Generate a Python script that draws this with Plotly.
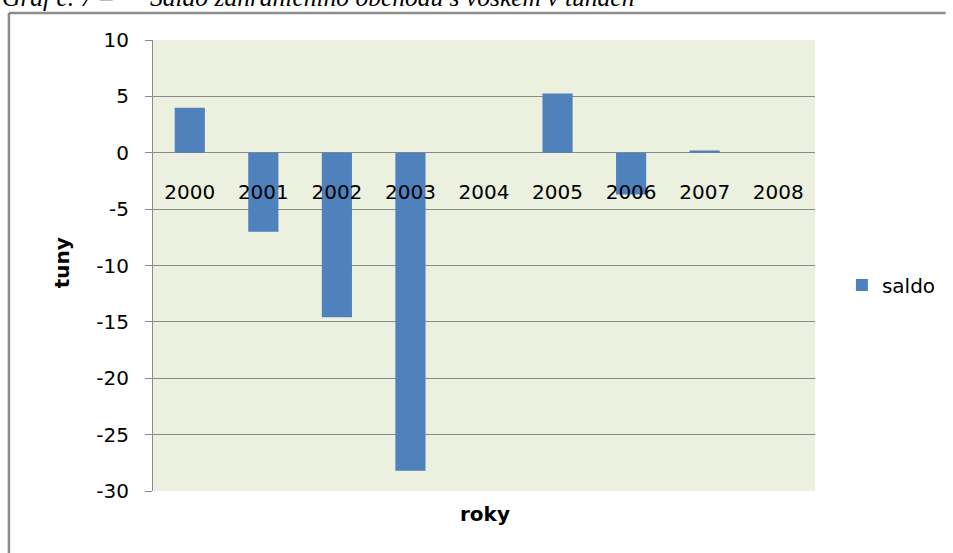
import plotly.graph_objects as go

# Foreign-trade balance of wax, in tonnes
years = ["2000", "2001", "2002", "2003", "2004", "2005", "2006", "2007", "2008"]
saldo = [4.0, -7.0, -14.6, -28.2, 0.0, 5.25, -3.7, 0.2, 0.0]
y_ticks = [10, 5, 0, -5, -10, -15, -20, -25, -30]

font_main = "DejaVu Sans"
grid_col = "#8a8a8a"

# plot-area geometry in pixels (used to place decorations in paper units)
W, H = 953, 553
L, R, T, B = 153, 817, 39.5, 491.5
pw, ph = R - L, B - T


def px_x(p):
    return (p - L) / pw


def px_y(p):
    return (B - p) / ph


fig = go.Figure()
fig.add_trace(go.Bar(
    x=years, y=saldo, name="saldo",
    marker=dict(color="#4F81BD", line=dict(width=0)),
))

fig.update_layout(
    width=W, height=H,
    margin=dict(l=L, r=W - R, t=T, b=H - B, pad=0),
    paper_bgcolor="white",
    plot_bgcolor="#EBF0DF",
    bargap=0.59,
    font=dict(family=font_main, color="#000000", size=20),
    showlegend=True,
    legend=dict(
        x=px_x(844), y=px_y(285), xanchor="left", yanchor="middle",
        font=dict(family=font_main, size=20),
        bgcolor="rgba(0,0,0,0)", borderwidth=0,
    ),
    xaxis=dict(
        type="category",
        anchor="free", position=px_y(152.3),
        showline=False, showgrid=False, zeroline=False, ticks="",
        ticklabelstandoff=25,
        tickfont=dict(family=font_main, size=20, color="#000000"),
        title=None,
    ),
    yaxis=dict(
        range=[-30, 10], tickmode="array", tickvals=y_ticks,
        ticktext=[str(v) for v in y_ticks],
        showgrid=True, gridcolor=grid_col, gridwidth=1.4,
        zeroline=False,
        showline=True, linecolor=grid_col, linewidth=1.2,
        ticks="outside", ticklen=7, tickcolor=grid_col, tickwidth=1.4,
        ticklabelstandoff=12,
        tickfont=dict(family=font_main, size=20, color="#000000"),
        title=None,
    ),
)

# axis titles
fig.add_annotation(
    text="<b>tuny</b>", textangle=-90, showarrow=False,
    xref="paper", yref="paper", x=px_x(62), y=px_y(263),
    xanchor="center", yanchor="middle",
    font=dict(family=font_main, size=20, color="#000000"),
)
fig.add_annotation(
    text="<b>roky</b>", showarrow=False,
    xref="paper", yref="paper", x=px_x(486), y=px_y(515),
    xanchor="center", yanchor="middle",
    font=dict(family=font_main, size=20, color="#000000"),
)

# caption above the chart frame
cap_font = dict(family="Liberation Serif", size=25.5, color="#000000")
fig.add_annotation(
    text="<i>Graf č. 7 –</i>", showarrow=False,
    xref="paper", yref="paper", x=px_x(0), y=px_y(13),
    xanchor="left", yanchor="bottom", font=cap_font,
)
fig.add_annotation(
    text="<i>Saldo zahraničního obchodu s voskem v tunách</i>", showarrow=False,
    xref="paper", yref="paper", x=px_x(148), y=px_y(13),
    xanchor="left", yanchor="bottom", font=cap_font,
)

# chart frame (top and left edges)
frame = dict(color="#8c8c8c", width=2.5)
fig.add_shape(type="line", xref="paper", yref="paper",
              x0=px_x(8.5), x1=px_x(948), y0=px_y(12.5), y1=px_y(12.5), line=frame)
fig.add_shape(type="line", xref="paper", yref="paper",
              x0=px_x(8.5), x1=px_x(8.5), y0=px_y(12.5), y1=px_y(560), line=frame)

fig.write_html("out.html")
